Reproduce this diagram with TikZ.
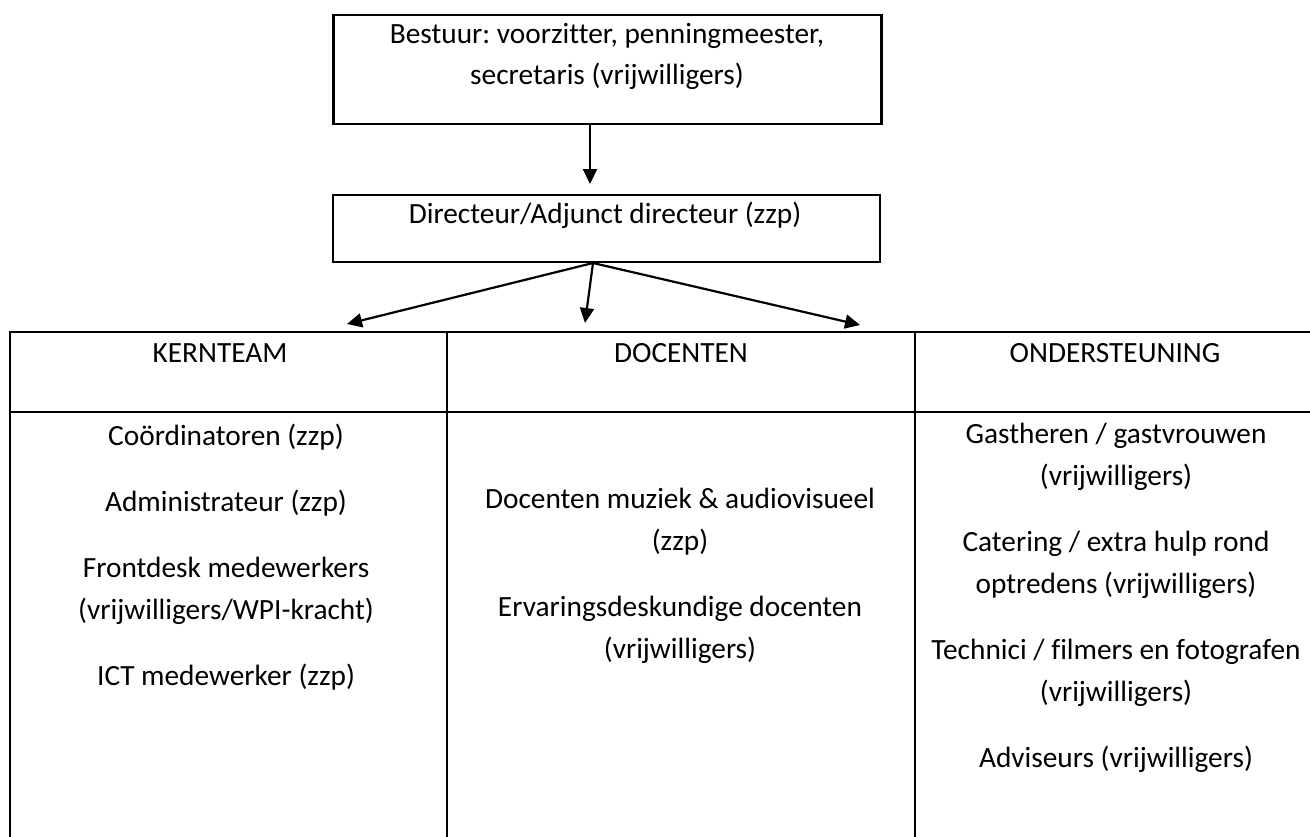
\documentclass[tikz,border=0pt]{standalone}
\usepackage{fontspec}
\setmainfont{Carlito}[Ligatures=NoCommon]
\usetikzlibrary{arrows.meta}
\frenchspacing
\begin{document}
\begin{tikzpicture}[x=1pt,y=-1pt,
  box/.style={draw, line width=2.2pt, inner sep=0pt},
  txt/.style={anchor=base, inner sep=0pt, font=\fontsize{29.33}{42}\selectfont},
  rule/.style={line width=2.2pt},
  arr/.style={line width=2.2pt, -{Triangle[length=15pt,width=14pt]}}]
\useasboundingbox (0,0) rectangle (1310,836);
\fill[white] (0,0) rectangle (1310,836);
% top boxes
\node[box, minimum width=548pt, minimum height=109pt] (bestuur) at (607.5,69.5) {};
\node[txt] (b1) at (607,43) {Bestuur: voorzitter, penningmeester,};
\node[txt] (b2) at (607,84) {secretaris (vrijwilligers)};
\node[box, minimum width=547pt, minimum height=67pt] (dir) at (606.5,228.5) {};
\node[txt] (d1) at (605,223) {Directeur/Adjunct directeur (zzp)};
% arrows
\coordinate (a0s) at (590,124);
\coordinate (a0e) at (590,184);
\draw[arr] (a0s) -- (a0e);
\coordinate (src) at (593,263);
\coordinate (tipL) at (347,324);
\coordinate (tipM) at (585,323);
\coordinate (tipR) at (860,325);
\draw[arr] (src) -- (tipL);
\draw[arr] (src) -- (tipM);
\draw[arr] (src) -- (tipR);
% table
\draw[rule] (10,332) -- (1315,332);
\draw[rule] (10,412) -- (1315,412);
\draw[rule] (10,331) -- (10,840);
\draw[rule] (447,331) -- (447,840);
\draw[rule] (915,331) -- (915,840);
% headers
\node[txt] (h1) at (220,362) {KERNTEAM};
\node[txt] (h2) at (681,362) {DOCENTEN};
\node[txt] (h3) at (1115,362) {ONDERSTEUNING};
% column 1
\node[txt] (k1) at (226,445) {Coördinatoren (zzp)};
\node[txt] (k2) at (226,511) {Administrateur (zzp)};
\node[txt] (k3) at (226,577) {Frontdesk medewerkers};
\node[txt] (k4) at (226,619) {(vrijwilligers/WPI-kracht)};
\node[txt] (k5) at (226,685) {ICT medewerker (zzp)};
% column 2
\node[txt] (c1) at (680,508) {Docenten muziek \& audiovisueel};
\node[txt] (c2) at (680,550) {(zzp)};
\node[txt] (c3) at (680,616) {Ervaringsdeskundige docenten};
\node[txt] (c4) at (680,658) {(vrijwilligers)};
% column 3
\node[txt] (o1) at (1116,443) {Gastheren / gastvrouwen};
\node[txt] (o2) at (1116,485) {(vrijwilligers)};
\node[txt] (o3) at (1116,551) {Catering / extra hulp rond};
\node[txt] (o4) at (1116,593) {optredens (vrijwilligers)};
\node[txt] (o5) at (1116,659) {Technici / filmers en fotografen};
\node[txt] (o6) at (1116,701) {(vrijwilligers)};
\node[txt] (o7) at (1116,767) {Adviseurs (vrijwilligers)};
\end{tikzpicture}
\end{document}
